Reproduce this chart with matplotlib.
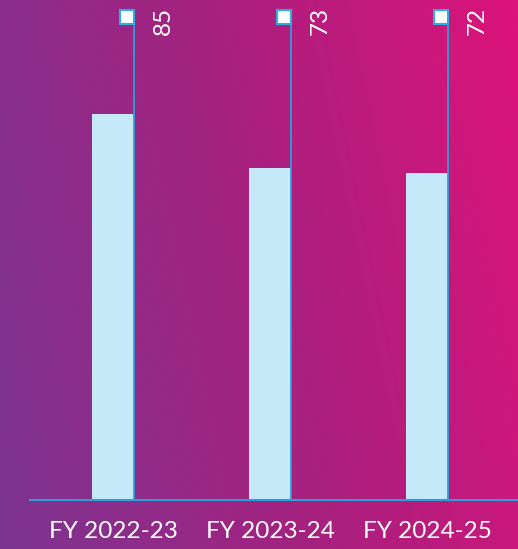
import matplotlib
matplotlib.use("Agg")
import matplotlib.pyplot as plt
import numpy as np
from matplotlib.colors import LinearSegmentedColormap

years = ["FY 2022-23", "FY 2023-24", "FY 2024-25"]
values = [85, 73, 72]

W, H, DPI = 518, 549, 100
fig = plt.figure(figsize=(W / DPI, H / DPI), dpi=DPI)

# diagonal purple -> magenta backdrop
bg = fig.add_axes([0, 0, 1, 1])
gx, gy = np.meshgrid(np.linspace(0, 1, 300), np.linspace(0, 1, 300))
grad = 0.82 * gx + 0.18 * gy
cmap = LinearSegmentedColormap.from_list("bg", ["#7c3592", "#a6217f", "#dc137a"])
bg.imshow(grad, cmap=cmap, origin="lower", aspect="auto", extent=[0, 1, 0, 1])
bg.set_axis_off()

# plot area: baseline at y=500px, top of stems at y=17px
left, right = 30 / W, 1.0
bottom, top = (H - 500) / H, (H - 17) / H
ax = fig.add_axes([left, bottom, right - left, top - bottom])
ax.patch.set_alpha(0)

x = np.arange(len(years))
bw = 0.267
ax.bar(x, values, width=bw, color="#c6e9f9", zorder=2)

px_per_unit = 386 / 85
ax.set_ylim(0, (500 - 17) / px_per_unit)
ax.set_xlim(-83 / 157, 405 / 157)

ytop = ax.get_ylim()[1]
stem_x = x + bw / 2
for sx, v in zip(stem_x, values):
    ax.plot([sx, sx], [0, ytop], color="#2a9fd8", lw=1.3, zorder=3, clip_on=False)
    ax.plot(sx - 0.045, ytop, marker="s", ms=10, mfc="white", mec="#2ab0e0",
            mew=1.5, zorder=4, clip_on=False)
    ax.annotate(str(v), (sx, ytop), xytext=(21, 7), textcoords="offset points",
                rotation=90, ha="center", va="top", color="white",
                fontsize=17.5, family="Lato")

for s in ["top", "right", "left"]:
    ax.spines[s].set_visible(False)
ax.spines["bottom"].set_color("#2a9fd8")
ax.spines["bottom"].set_linewidth(1.5)
ax.set_yticks([])
ax.set_xticks(x)
ax.set_xticklabels(years, color="white", fontsize=17.5, family="Lato")
ax.tick_params(axis="x", length=0, pad=15)

fig.savefig("out.png", dpi=DPI)
